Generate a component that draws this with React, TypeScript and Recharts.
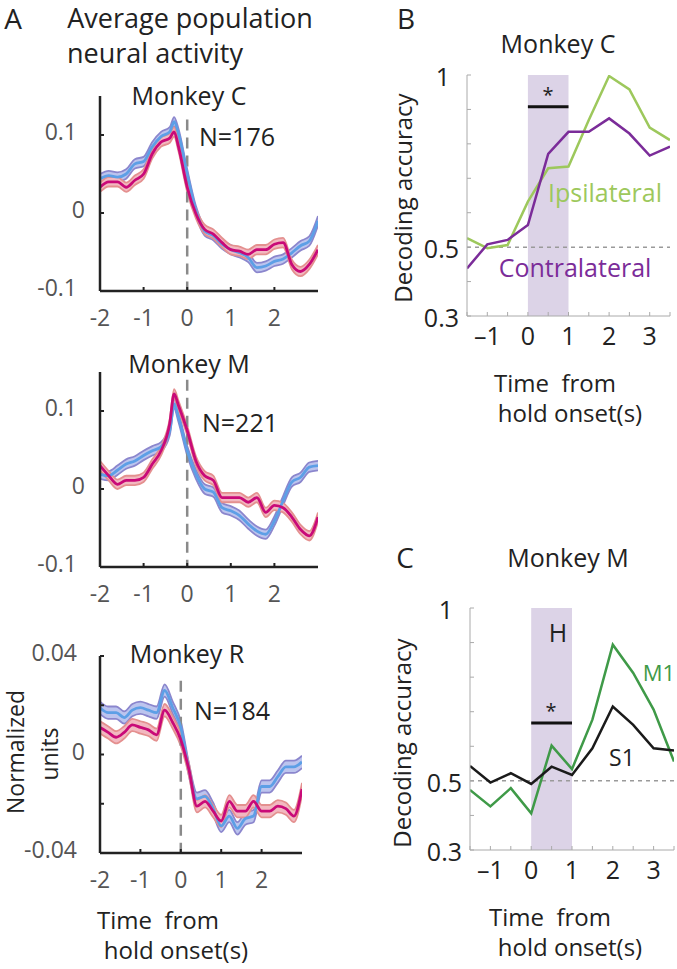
import React from 'react';
import { ComposedChart, Line, Area, XAxis, YAxis, ReferenceLine, ReferenceArea } from 'recharts';

const FONT = '"Open Sans", sans-serif';

// panel A: time axis (s) and population averages
const timeCM = [-2, -1.8, -1.6, -1.4, -1.2, -1.0, -0.8, -0.6, -0.4, -0.3, -0.2, 0, 0.2, 0.4, 0.6, 0.8, 1.0, 1.2, 1.4, 1.6, 1.8, 2.0, 2.2, 2.4, 2.6, 2.8, 3.0];
const timeR = [-2, -1.8, -1.6, -1.4, -1.2, -1.0, -0.8, -0.6, -0.4, -0.2, 0, 0.2, 0.4, 0.6, 0.8, 1.0, 1.2, 1.4, 1.6, 1.8, 2.0, 2.2, 2.4, 2.6, 2.8, 3.0];

const monkeyCBlue = [0.044, 0.048, 0.046, 0.050, 0.063, 0.066, 0.085, 0.098, 0.104, 0.117, 0.102, 0.050, 0.003, -0.023, -0.029, -0.040, -0.047, -0.051, -0.057, -0.070, -0.068, -0.062, -0.059, -0.051, -0.042, -0.036, -0.010];
const monkeyCMagenta = [0.033, 0.040, 0.040, 0.033, 0.042, 0.050, 0.076, 0.091, 0.096, 0.104, 0.085, 0.033, -0.001, -0.021, -0.027, -0.038, -0.047, -0.049, -0.053, -0.047, -0.047, -0.040, -0.038, -0.066, -0.075, -0.066, -0.047];
const monkeyMBlue = [0.019, 0.017, 0.024, 0.032, 0.036, 0.043, 0.049, 0.054, 0.075, 0.109, 0.092, 0.049, 0.019, 0.000, -0.004, -0.024, -0.028, -0.034, -0.045, -0.054, -0.058, -0.041, -0.015, 0.009, 0.015, 0.028, 0.030];
const monkeyMMagenta = [0.030, 0.017, 0.006, 0.011, 0.011, 0.015, 0.032, 0.049, 0.084, 0.122, 0.107, 0.075, 0.036, 0.017, 0.011, -0.011, -0.011, -0.011, -0.017, -0.011, -0.030, -0.021, -0.024, -0.036, -0.052, -0.060, -0.036];
const monkeyRBlue = [0.019, 0.017, 0.017, 0.015, 0.018, 0.019, 0.018, 0.017, 0.026, 0.019, 0.011, -0.006, -0.018, -0.017, -0.022, -0.029, -0.025, -0.030, -0.026, -0.025, -0.013, -0.013, -0.009, -0.005, -0.005, -0.003];
const monkeyRMagenta = [0.011, 0.009, 0.007, 0.009, 0.012, 0.011, 0.010, 0.008, 0.018, 0.013, 0.006, -0.006, -0.021, -0.019, -0.023, -0.027, -0.019, -0.023, -0.023, -0.019, -0.023, -0.023, -0.021, -0.022, -0.025, -0.014];
const semCM = 0.006;
const semR = 0.0025;

const ticksA = [-2, -1, 0, 1, 2];

// panels B and C: decoding accuracy
const timeDec = [-1.5, -1, -0.5, 0, 0.5, 1, 1.5, 2, 2.5, 3, 3.5];
const ipsilateral = [0.526, 0.497, 0.506, 0.632, 0.729, 0.734, 0.869, 0.997, 0.958, 0.847, 0.811];
const contralateral = [0.438, 0.508, 0.521, 0.564, 0.771, 0.835, 0.835, 0.874, 0.830, 0.766, 0.792];
const m1 = [0.474, 0.426, 0.479, 0.406, 0.602, 0.534, 0.677, 0.894, 0.812, 0.706, 0.556];
const s1 = [0.543, 0.495, 0.522, 0.491, 0.541, 0.517, 0.594, 0.715, 0.662, 0.594, 0.588];
const decXTicks = [-1.5, -1, -0.5, 0, 0.5, 1, 1.5, 2, 2.5, 3, 3.5];
const decYTicks = [0.3, 0.4, 0.5, 0.6, 0.7, 0.8, 0.9, 1];
const decYLabels = [0.3, 0.5, 1];

const BLUE = '#5d9fe6';
const BLUE_BAND = '#bcc4ee';
const BLUE_EDGE = '#8b86cd';
const MAG = '#c90a78';
const MAG_BAND = '#f2b8c0';
const MAG_EDGE = '#e4908f';

type LabelProps = { x: number; y: number; size: number; color?: string; rotate?: boolean; children: React.ReactNode };
const Txt = ({ x, y, size, color = '#222', rotate = false, children }: LabelProps) => (
  <div style={{
    position: 'absolute', left: x, top: y, fontSize: size, color, fontFamily: FONT, lineHeight: 1,
    whiteSpace: 'nowrap', transform: `translate(-50%, -50%)${rotate ? ' rotate(-90deg)' : ''}`,
  }}>{children}</div>
);

type PopProps = {
  plotLeft: number; plotTop: number; plotW: number; plotH: number;
  time: number[]; blue: number[]; mag: number[]; sem: number;
  yDomain: [number, number]; yTicks: number[]; yLabels: { v: number; s: string }[]; dashTop: number;
};

function PopPanel({ plotLeft, plotTop, plotW, plotH, time, blue, mag, sem, yDomain, yTicks, yLabels, dashTop }: PopProps) {
  const rows = time.map((t, i) => ({
    t,
    b: blue[i], bb: [blue[i] - sem, blue[i] + sem],
    m: mag[i], mb: [mag[i] - sem, mag[i] + sem],
  }));
  const mt = 24, xh = 44, mr = 12;
  const yTick = (p: any) => {
    const v = p.payload.value;
    const lab = yLabels.find((l) => Math.abs(l.v - v) < 1e-9);
    return (
      <g>
        <line x1={p.x} x2={p.x + 4} y1={p.y} y2={p.y} stroke="#222" strokeWidth={2} />
        {lab && (
          <text x={p.x - (v === 0 ? 15 : 23)} y={p.y - 4} textAnchor="end" dominantBaseline="central"
            fill="#555" fontSize={23} fontFamily={FONT}>{lab.s}</text>
        )}
      </g>
    );
  };
  const xTick = (p: any) => (
    <g>
      <line x1={p.x} x2={p.x} y1={p.y} y2={p.y - 4} stroke="#222" strokeWidth={2} />
      <text x={p.x} y={p.y + 26} textAnchor="middle" dominantBaseline="central"
        fill="#555" fontSize={23} fontFamily={FONT}>{p.payload.value}</text>
    </g>
  );
  return (
    <div style={{ position: 'absolute', left: 0, top: plotTop - mt }}>
      <ComposedChart width={plotLeft + plotW + mr} height={mt + plotH + xh} data={rows}
        margin={{ top: mt, right: mr, left: 0, bottom: 0 }}>
        <XAxis dataKey="t" type="number" domain={[time[0], time[time.length - 1]]} ticks={ticksA} interval={0}
          height={xh} tickSize={0} tickMargin={0} tickLine={false} tick={xTick}
          axisLine={{ stroke: '#222', strokeWidth: 2.5 }} allowDataOverflow />
        <YAxis type="number" domain={yDomain} ticks={yTicks} interval={0} width={plotLeft} tickSize={0} tickMargin={0}
          tickLine={false} tick={yTick} axisLine={{ stroke: '#222', strokeWidth: 2.5 }} allowDataOverflow />
        <ReferenceLine segment={[{ x: 0, y: dashTop }, { x: 0, y: yDomain[0] }]} stroke="#8a8a8a"
          strokeWidth={2.5} strokeDasharray="11 7" />
        <Area dataKey="bb" type="monotone" fill={BLUE_BAND} fillOpacity={1} stroke={BLUE_EDGE} strokeWidth={1.8}
          isAnimationActive={false} dot={false} activeDot={false} />
        <Line dataKey="b" type="monotone" stroke={BLUE} strokeWidth={2.8} dot={false} isAnimationActive={false} />
        <Area dataKey="mb" type="monotone" fill={MAG_BAND} fillOpacity={1} stroke={MAG_EDGE} strokeWidth={1.8}
          isAnimationActive={false} dot={false} activeDot={false} />
        <Line dataKey="m" type="monotone" stroke={MAG} strokeWidth={2.8} dot={false} isAnimationActive={false} />
      </ComposedChart>
    </div>
  );
}

type DecProps = {
  plotLeft: number; plotTop: number; plotW: number; plotH: number;
  a: number[]; b: number[]; colorA: string; colorB: string; sigY: number;
};

function DecPanel({ plotLeft, plotTop, plotW, plotH, a, b, colorA, colorB, sigY }: DecProps) {
  const rows = timeDec.map((t, i) => ({ t, a: a[i], b: b[i] }));
  const mt = 22, yw = 70, xh = 40, mr = 8;
  const yTick = (p: any) => {
    const v = p.payload.value;
    const show = decYLabels.some((l) => Math.abs(l - v) < 1e-9);
    return (
      <g>
        <line x1={p.x} x2={p.x + 4} y1={p.y} y2={p.y} stroke="#aaa" strokeWidth={1} />
        {show && (
          <text x={p.x - (v === 1 ? 17 : 8)} y={p.y + 1} textAnchor="end" dominantBaseline="central"
            fill="#222" fontSize={25} fontFamily={FONT}>{v}</text>
        )}
      </g>
    );
  };
  const xTick = (p: any) => {
    const v = p.payload.value;
    const show = Math.abs(v - Math.round(v)) < 1e-9;
    return (
      <g>
        <line x1={p.x} x2={p.x} y1={p.y} y2={p.y - 4} stroke="#aaa" strokeWidth={1} />
        {show && (
          <text x={p.x} y={p.y + 19} textAnchor="middle" dominantBaseline="central"
            fill="#222" fontSize={25} fontFamily={FONT}>{v < 0 ? '\u2013' + Math.abs(v) : v}</text>
        )}
      </g>
    );
  };
  return (
    <div style={{ position: 'absolute', left: plotLeft - yw, top: plotTop - mt }}>
      <ComposedChart width={yw + plotW + mr} height={mt + plotH + xh} data={rows}
        margin={{ top: mt, right: mr, left: 0, bottom: 0 }}>
        <XAxis dataKey="t" type="number" domain={[-1.5, 3.5]} ticks={decXTicks} interval={0} height={xh}
          tickSize={0} tickMargin={0} tickLine={false} tick={xTick}
          axisLine={{ stroke: '#aaa', strokeWidth: 1 }} allowDataOverflow />
        <YAxis type="number" domain={[0.3, 1]} ticks={decYTicks} interval={0} width={yw} tickSize={0} tickMargin={0}
          tickLine={false} tick={yTick} axisLine={{ stroke: '#aaa', strokeWidth: 1 }} allowDataOverflow />
        <ReferenceArea x1={0} x2={1} y1={0.3} y2={1} fill="#dcd3e7" fillOpacity={1} stroke="none" />
        <ReferenceLine y={0.5} stroke="#9a9a9a" strokeWidth={1.5} strokeDasharray="4 4" />
        <ReferenceLine segment={[{ x: 0, y: sigY }, { x: 1, y: sigY }]} stroke="#111" strokeWidth={3} />
        <Line dataKey="a" type="linear" stroke={colorA} strokeWidth={2.5} dot={false} isAnimationActive={false} />
        <Line dataKey="b" type="linear" stroke={colorB} strokeWidth={2.5} dot={false} isAnimationActive={false} />
      </ComposedChart>
    </div>
  );
}

const labelsCM = [{ v: 0.1, s: '0.1' }, { v: 0, s: '0' }, { v: -0.1, s: '-0.1' }];
const labelsR = [{ v: 0.04, s: '0.04' }, { v: 0, s: '0' }, { v: -0.04, s: '-0.04' }];

export default function App() {
  return (
    <div style={{ position: 'absolute', left: 0, top: 0, width: 677, height: 969, background: '#fff', overflow: 'hidden', fontFamily: FONT }}>
      <PopPanel plotLeft={100} plotTop={96} plotW={218} plotH={195} time={timeCM} blue={monkeyCBlue} mag={monkeyCMagenta}
        sem={semCM} yDomain={[-0.1, 0.15]} yTicks={[-0.1, 0, 0.1]} yLabels={labelsCM} dashTop={0.12} />
      <PopPanel plotLeft={100} plotTop={372} plotW={218} plotH={195} time={timeCM} blue={monkeyMBlue} mag={monkeyMMagenta}
        sem={semCM} yDomain={[-0.1, 0.15]} yTicks={[-0.1, 0, 0.1]} yLabels={labelsCM} dashTop={0.14} />
      <PopPanel plotLeft={100} plotTop={656} plotW={202} plotH={197} time={timeR} blue={monkeyRBlue} mag={monkeyRMagenta}
        sem={semR} yDomain={[-0.04, 0.04]} yTicks={[-0.04, -0.02, 0, 0.02, 0.04]} yLabels={labelsR} dashTop={0.03} />

      <DecPanel plotLeft={467} plotTop={75} plotW={203} plotH={241} a={ipsilateral} b={contralateral}
        colorA="#9dc85c" colorB="#7b2c99" sigY={0.908} />
      <DecPanel plotLeft={470} plotTop={608} plotW={204} plotH={242} a={m1} b={s1}
        colorA="#3f9a48" colorB="#1a1a1a" sigY={0.667} />

      {/* panel A text */}
      <Txt x={13} y={18} size={28}>A</Txt>
      <Txt x={190} y={17} size={27}>Average population</Txt>
      <Txt x={155} y={52} size={27}>neural activity</Txt>
      <Txt x={189} y={95} size={25}>Monkey C</Txt>
      <Txt x={237} y={136} size={25}>N=176</Txt>
      <Txt x={189} y={363} size={25}>Monkey M</Txt>
      <Txt x={240} y={422} size={25}>N=221</Txt>
      <Txt x={187} y={653} size={25}>Monkey R</Txt>
      <Txt x={232} y={710} size={25}>N=184</Txt>
      <Txt x={15} y={752} size={23} rotate>Normalized</Txt>
      <Txt x={49} y={754} size={23} rotate>units</Txt>
      <Txt x={158} y={920} size={24}>Time&nbsp; from</Txt>
      <Txt x={176} y={950} size={24}>hold onset(s)</Txt>

      {/* panel B text */}
      <Txt x={406} y={18} size={28}>B</Txt>
      <Txt x={558} y={43} size={25}>Monkey C</Txt>
      <Txt x={548} y={95} size={20}>*</Txt>
      <Txt x={605} y={192} size={25} color="#9dc85c">Ipsilateral</Txt>
      <Txt x={575} y={267} size={25} color="#7b2c99">Contralateral</Txt>
      <Txt x={403} y={198} size={24} rotate>Decoding accuracy</Txt>
      <Txt x={555} y={383} size={24}>Time&nbsp; from</Txt>
      <Txt x={570} y={413} size={24}>hold onset(s)</Txt>

      {/* panel C text */}
      <Txt x={405} y={557} size={28}>C</Txt>
      <Txt x={568} y={557} size={25}>Monkey M</Txt>
      <Txt x={558} y={632} size={25}>H</Txt>
      <Txt x={551} y={711} size={20}>*</Txt>
      <Txt x={659} y={672} size={22} color="#3f9a48">M1</Txt>
      <Txt x={622} y={757} size={23}>S1</Txt>
      <Txt x={402} y={743} size={24} rotate>Decoding accuracy</Txt>
      <Txt x={550} y={917} size={24}>Time&nbsp; from</Txt>
      <Txt x={570} y={947} size={24}>hold onset(s)</Txt>
    </div>
  );
}
